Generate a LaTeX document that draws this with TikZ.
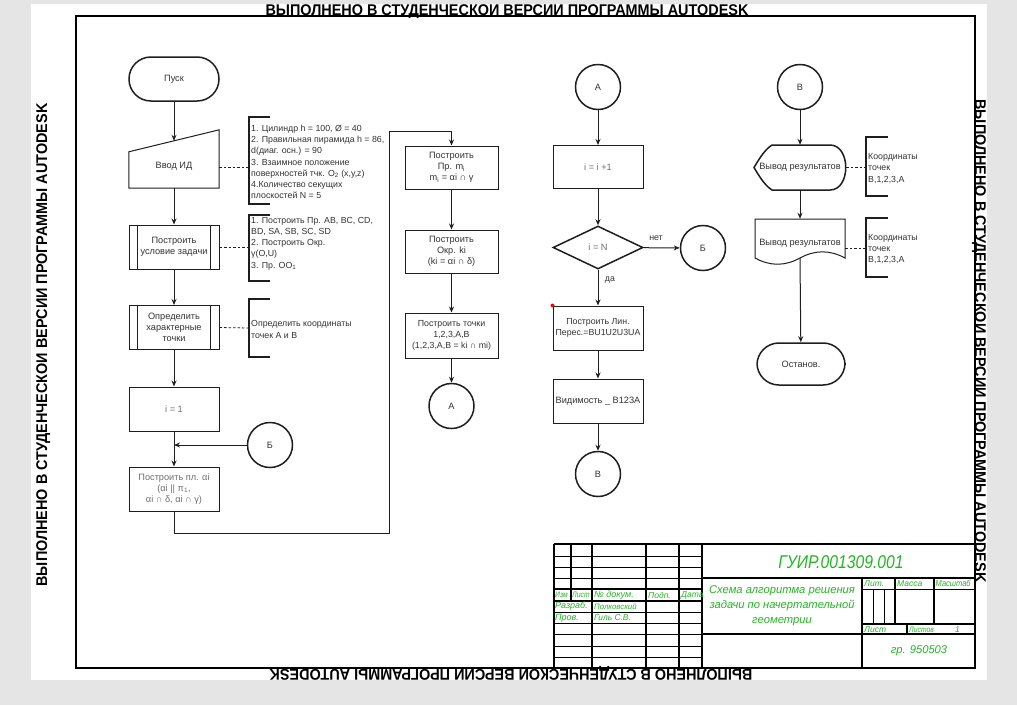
\documentclass[tikz,border=0pt]{standalone}
\usepackage{fontspec}
\setmainfont{Liberation Sans}
\newfontfamily\gostfont{Liberation Sans}
\newfontfamily\gostnarrow[FakeStretch=0.85]{Liberation Sans}
\newfontfamily\sidefont[FakeStretch=0.93]{Liberation Sans}
\usetikzlibrary{arrows.meta,calc,shapes.geometric}
\definecolor{pagegray}{RGB}{229,229,229}
\definecolor{ink}{RGB}{30,30,30}
\definecolor{txt}{RGB}{51,51,51}
\definecolor{softtxt}{RGB}{110,110,110}
\definecolor{gostgreen}{RGB}{38,180,38}
\begin{document}
\begin{tikzpicture}[x=1pt,y=-1pt,
  every node/.style={font=\fontsize{8.8}{11.2}\selectfont, text=txt, inner sep=0pt},
  box/.style={draw=ink, line width=1pt, minimum width=90pt, minimum height=43pt, align=center, font=\fontsize{9.2}{11.2}\selectfont},
  widebox/.style={box, minimum width=93pt},
  pbox/.style={box, minimum height=44pt},
  term/.style={draw=ink, line width=1.5pt, rounded corners=21.9pt, minimum width=90pt, minimum height=44pt, font=\fontsize{9.2}{11.2}\selectfont},
  circ/.style={circle, draw=ink, line width=1.5pt, minimum size=45pt, font=\fontsize{9.2}{11.2}\selectfont},
  dec/.style={diamond, draw=ink, line width=1.5pt, minimum width=90pt, minimum height=43pt, font=\fontsize{9.2}{11.2}\selectfont},
  outline/.style={draw=ink, line width=1.5pt},
  inner/.style={draw=ink, line width=1pt},
  arr/.style={draw=ink, line width=1pt, -{Stealth[length=6pt,width=5pt]}},
  link/.style={draw=ink, line width=1pt},
  dashlink/.style={draw=ink, line width=0.8pt, dash pattern=on 2.5pt off 2pt},
  brk/.style={draw=ink, line width=1.8pt},
  note/.style={anchor=west, align=left},
  side/.style={font=\sidefont\bfseries\fontsize{15.5}{15.5}\selectfont, text=black, anchor=base},
  gost/.style={text=gostgreen, font=\gostfont\itshape\fontsize{8.5}{10}\selectfont, anchor=west},
  gosthead/.style={gost, font=\gostnarrow\itshape\fontsize{8}{10}\selectfont},
  gostname/.style={gost, font=\gostfont\itshape\fontsize{7.8}{9}\selectfont},
  tb/.style={draw=black, line width=0.9pt},
  tbthick/.style={draw=black, line width=1.6pt}
]
\useasboundingbox (0,0) rectangle (1017,705);
\fill[pagegray] (0,0) rectangle (1017,705);
\fill[white] (31,4) rectangle (987,680);

% drawing frame and margin marks
\draw[line width=2pt] (76,16) rectangle (975,668);
\node[side] (marktop) at (507,15) {ВЫПОЛНЕНО В СТУДЕНЧЕСКОИ ВЕРСИИ ПРОГРАММЫ AUTODESK};
\node[side, rotate=90] (markleft) at (47,345) {ВЫПОЛНЕНО В СТУДЕНЧЕСКОИ ВЕРСИИ ПРОГРАММЫ AUTODESK};
\node[side, rotate=-90] (markright) at (975,341) {ВЫПОЛНЕНО В СТУДЕНЧЕСКОИ ВЕРСИИ ПРОГРАММЫ AUTODESK};
\node[side, rotate=180] (markbottom) at (511,669) {ВЫПОЛНЕНО В СТУДЕНЧЕСКОИ ВЕРСИИ ПРОГРАММЫ AUTODESK};

% ---------- column 1 ----------
\node[term] (start) at (174,79) {Пуск};
\node[minimum width=90pt, minimum height=58pt] (input) at (174,159) {};
\draw[inner] (input.south west) -- (input.south east) -- (input.north east) -- ($(input.north west)+(0,22)$) -- cycle;
\node[font=\fontsize{9.2}{11.2}\selectfont] (inputtxt) at (174,166) {Ввод ИД};
\node[pbox] (cond) at (174,247) {Построить\\условие задачи};
\draw[inner] ([xshift=9pt]cond.north west) -- ([xshift=9pt]cond.south west);
\draw[inner] ([xshift=-9pt]cond.north east) -- ([xshift=-9pt]cond.south east);
\node[pbox] (pts) at (174,327.5) {Определить\\характерные\\точки};
\draw[inner] ([xshift=9pt]pts.north west) -- ([xshift=9pt]pts.south west);
\draw[inner] ([xshift=-9pt]pts.north east) -- ([xshift=-9pt]pts.south east);
\node[box, minimum height=44pt, text=softtxt] (init) at (174,409) {i = 1};
\node[circ] (b1) at (270,445) {Б};
\node[box, minimum height=44pt, text=softtxt] (plane) at (174,489) {Построить пл. αi\\(αi || π\textsubscript{1},\\αi ∩ δ, αi ∩ γ)};

\draw[arr] (start) -- ($(input.north)+(0,11)$);
\draw[arr] (input) -- (cond);
\draw[arr] (cond) -- (pts);
\draw[arr] (pts) -- (init);
\coordinate (join) at (174,445);
\draw[link] (init) -- (join);
\draw[arr] (join) -- (plane);
\draw[arr] (b1) -- (join);

% notes of column 1
\coordinate (br1) at (249,167);
\coordinate (br2) at (249,247);
\coordinate (br3) at (249,328);
\draw[brk] (270,117) -- (249,117) -- (249,204) -- (270,204);
\draw[brk] (270,215) -- (249,215) -- (249,281) -- (270,281);
\draw[brk] (270,299) -- (249,299) -- (249,357) -- (270,357);
\draw[dashlink] (input.east |- br1) -- (br1);
\draw[dashlink] (cond.east) -- (br2);
\draw[dashlink] (pts.east) -- (br3);
\node[note] (n1) at (251,162) {1. Цилиндр h = 100, Ø = 40\\2. Правильная пирамида h = 86,\\d(диаг. осн.) = 90\\3. Взаимное положение\\поверхностей тчк. O\textsubscript{2} (x,y,z)\\4.Количество секущих\\плоскостей N = 5};
\node[note] (n2) at (251,243.5) {1. Построить Пр. AB, BC, CD,\\BD, SA, SB, SC, SD\\2. Построить Окр.\\γ(O,U)\\3. Пр. OO\textsubscript{1}};
\node[note] (n3) at (251,329.5) {Определить координаты\\точек A и B};

% ---------- column 2 ----------
\node[widebox] (mline) at (451.5,167.5) {Построить\\Пр. m\textsubscript{i}\\m\textsubscript{i} = αi ∩ γ};
\node[widebox] (kcirc) at (451.5,251.5) {Построить\\Окр. ki\\(ki =  αi ∩ δ)};
\node[widebox, minimum height=45pt, font=\fontsize{8.8}{11.2}\selectfont] (kpts) at (451.5,335.5) {Построить точки\\1,2,3,A,B\\(1,2,3,A,B = ki ∩ mi)};
\node[circ] (a1) at (451.5,406) {А};
\coordinate (loopA) at (389,533);
\coordinate (loopB) at (389,131);
\draw[arr] (plane.south) |- (loopA) -- (loopB) -| (mline.north);
\draw[arr] (mline) -- (kcirc);
\draw[arr] (kcirc) -- (kpts);
\draw[arr] (kpts) -- (a1);

% ---------- column 3 ----------
\node[circ] (a2) at (598,87) {А};
\node[box, text=softtxt] (inc) at (598,167) {i = i +1};
\node[dec, text=softtxt] (test) at (598,247.5) {i = N};
\node[circ] (b2) at (703,248) {Б};
\node[box, minimum height=44pt, font=\fontsize{8.8}{11.2}\selectfont] (isect) at (598,328) {Построить Лин.\\Перес.=BU1U2U3UA};
\node[box, minimum height=44pt] (vis) at (598,401) {Видимость \_ B123A};
\node[circ] (v1) at (598,474) {В};
\node (no) at (656,238) {нет};
\node (yes) at (610,280) {да};
\fill[red] (isect.north west) circle (2pt);
\draw[arr] (a2) -- (inc);
\draw[arr] (inc) -- (test);
\draw[arr] (test) -- (b2);
\draw[arr] (test) -- (isect);
\draw[arr] (isect) -- (vis);
\draw[arr] (vis) -- (v1);

% ---------- column 4 ----------
\node[circ] (v2) at (800,87) {В};
\node[minimum width=92pt, minimum height=45pt, font=\fontsize{9.2}{11.2}\selectfont] (disp) at (800,167.5) {Вывод результатов};
\draw[outline] (772,145) -- (830,145) .. controls (851,145) and (851,190) .. (830,190) -- (772,190)
  .. controls (764,185) and (758,174) .. (754,167.5) .. controls (758,161) and (764,150) .. (772,145) -- cycle;
\node[minimum width=90pt, minimum height=39pt] (doc) at (800,238.5) {};
\draw[inner] (755,258) -- (755,219) -- (845,219) -- (845,258)
  .. controls (830,249.8) and (815,249.8) .. (800,258)
  .. controls (785,266.3) and (770,266.3) .. (755,258) -- cycle;
\node[font=\fontsize{9.2}{11.2}\selectfont] (doctxt) at (800,243) {Вывод результатов};
\node[term, minimum width=88pt, minimum height=42pt] (stop) at (801,364) {Останов.};
\draw[arr] (v2) -- (disp.north);
\draw[arr] (disp.south) -- (doc.north);
\draw[arr] (doc.south) -- (stop);

\coordinate (br4) at (866,167);
\coordinate (br5) at (866,248);
\draw[brk] (888,137) -- (866,137) -- (866,196) -- (888,196);
\draw[brk] (888,218) -- (866,218) -- (866,277) -- (888,277);
\draw[dashlink] (disp.east |- br4) -- (br4);
\draw[dashlink] (doc.east |- br5) -- (br5);
\node[note] (n4) at (868,168.5) {Координаты\\точек\\B,1,2,3,A};
\node[note] (n5) at (868,249) {Координаты\\точек\\B,1,2,3,A};

% ---------- title block ----------
\foreach \yy in {556,567,578,612,623,634,646,657} \draw[tb] (554,\yy) -- (702,\yy);
\foreach \yy in {589,601} \draw[tbthick] (554,\yy) -- (702,\yy);
\draw[tbthick] (554,544) -- (975,544);
\draw[tbthick] (554,544) -- (554,668);
\draw[tbthick] (571,544) -- (571,601);
\foreach \xx in {592,646,679,702} \draw[tbthick] (\xx,544) -- (\xx,668);
\draw[tbthick] (702,578) -- (975,578);
\draw[tbthick] (702,634) -- (975,634);
\draw[tbthick] (862,578) -- (862,668);
\draw[tbthick] (895,578) -- (895,624);
\draw[tbthick] (934,578) -- (934,624);
\draw[tb] (862,589) -- (975,589);
\draw[tbthick] (862,624) -- (975,624);
\draw[tb] (873,589) -- (873,624);
\draw[tb] (884,589) -- (884,624);
\draw[tbthick] (907,624) -- (907,634);

\node[gost, anchor=center, font=\gostnarrow\itshape\fontsize{18.5}{18.5}\selectfont] (code) at (841,562) {ГУИР.001309.001};
\node[gost, anchor=center, align=center, font=\gostfont\itshape\fontsize{11.2}{15}\selectfont] (title) at (782,605.5) {Схема алгоритма решения\\задачи по начертательной\\геометрии};
\node[gost, anchor=center, font=\gostfont\itshape\fontsize{11.2}{12}\selectfont] (group) at (919,651) {гр. 950503};
\node[gost] (hlit) at (864,583.5) {Лит.};
\node[gost] (hmass) at (897,583.5) {Масса};
\node[gosthead, font=\gostnarrow\itshape\fontsize{8.8}{10}\selectfont] (hscale) at (935.5,583.5) {Масштаб};
\node[gost] (hsheet) at (864,629.5) {Лист};
\node[gosthead] (hsheets) at (909,629.5) {Листов};
\node[gost] (nsheets) at (955,629.5) {1};
\node[gosthead] (hizm) at (555,595) {Изм};
\node[gosthead] (hlist) at (572,595) {Лист};
\node[gost, font=\gostfont\itshape\fontsize{9}{10}\selectfont] (hdoc) at (594,595) {№ докум.};
\node[gost] (hsign) at (648,595) {Подп.};
\node[gost] (hdate) at (681,595) {Дата};
\node[gost, font=\gostfont\itshape\fontsize{9}{10}\selectfont] (hdev) at (555,606.5) {Разраб.};
\node[gostname] (dev) at (594,606.5) {Полковский};
\node[gost, font=\gostfont\itshape\fontsize{9}{10}\selectfont] (hchk) at (555,618) {Пров.};
\node[gostname, font=\gostfont\itshape\fontsize{8.4}{9}\selectfont] (chk) at (594,618) {Гиль С.В.};
\end{tikzpicture}
\end{document}
